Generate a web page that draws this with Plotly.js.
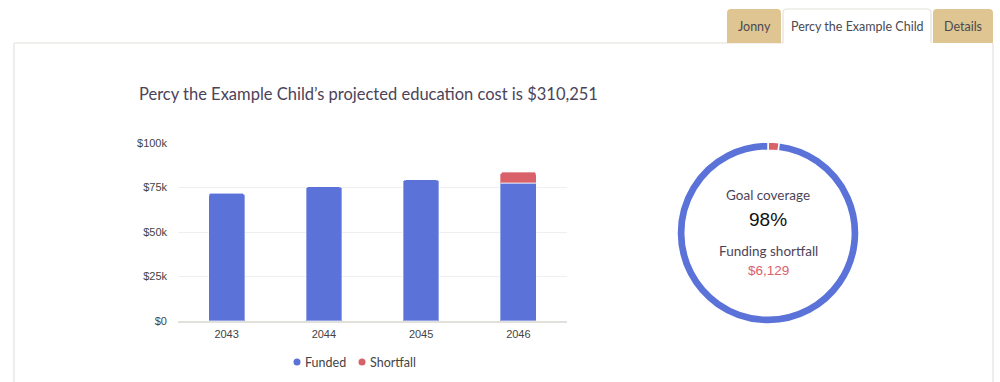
<!DOCTYPE html>
<html>
<head>
<meta charset="utf-8">
<script src="https://cdn.plot.ly/plotly-3.0.1.min.js"></script>
<style>
html,body{margin:0;padding:0;background:#fff;}
#chart{width:1000px;height:382px;}
</style>
</head>
<body>
<div id="chart"></div>
<script>
// ---- data ----
const years = ['2043', '2044', '2045', '2046'];
const funded = [71800, 75500, 79400, 77422];
const shortfall = [0, 0, 0, 6129];
const seriesNames = ['Funded', 'Shortfall'];
const coverageLabels = ['Shortfall', 'Funded'];
const totalCost = 310251;
const totalShortfall = 6129;
const coveragePct = '98%';
const tabs = ['Jonny', 'Percy the Example Child', 'Details'];
const yTicks = [0, 25000, 50000, 75000, 100000];
const yTickText = ['$0', '$25k', '$50k', '$75k', '$100k'];

// ---- style ----
const BLUE = '#5b72d9';
const RED = '#d9616a';
const TAN = '#dfc591';
const TEXT = '#4b4458';
const BORDER = '#e4e2dc';
const FONT = 'Lato, Inter, sans-serif';
const W = 1000, H = 382;
const px = x => x / W;
const py = y => 1 - y / H;

const fmt = v => '$' + v.toLocaleString('en-US');

const traces = [
  {
    type: 'bar', x: years, y: funded, name: seriesNames[0], showlegend: false,
    marker: {color: BLUE, cornerradius: 3, line: {color: 'rgba(255,255,255,0.35)', width: 1.5}},
    width: 0.37, hoverinfo: 'skip'
  },
  {
    type: 'bar', x: years, y: shortfall, name: seriesNames[1], showlegend: false,
    marker: {color: RED, cornerradius: 3, line: {color: 'rgba(255,255,255,0.35)', width: 1.5}},
    width: 0.37, hoverinfo: 'skip'
  },
  {
    type: 'pie', labels: coverageLabels,
    values: [totalShortfall, totalCost - totalShortfall],
    hole: 0.91, sort: false, direction: 'clockwise', rotation: 0,
    marker: {colors: [RED, BLUE], line: {color: '#fff', width: 1.5}},
    textinfo: 'none', showlegend: false, hoverinfo: 'skip',
    domain: {x: [px(677), px(859)], y: [py(324), py(142)]}
  }
];

// tabs geometry
const tabY0 = 9, tabY1 = 43;
const tabX = [[727, 781], [783, 931], [933, 993]];
function tabPath(x0, x1, r) {
  return `M ${px(x0)} ${py(tabY1)} L ${px(x0)} ${py(tabY0 + r)} Q ${px(x0)} ${py(tabY0)} ${px(x0 + r)} ${py(tabY0)} ` +
         `L ${px(x1 - r)} ${py(tabY0)} Q ${px(x1)} ${py(tabY0)} ${px(x1)} ${py(tabY0 + r)} L ${px(x1)} ${py(tabY1)}`;
}

const shapes = [
  // card border
  {type: 'line', xref: 'paper', yref: 'paper', x0: px(14), x1: px(783), y0: py(43), y1: py(43), line: {color: BORDER, width: 1.2}},
  {type: 'line', xref: 'paper', yref: 'paper', x0: px(14), x1: px(14), y0: py(43), y1: py(382), line: {color: BORDER, width: 1.2}},
  {type: 'line', xref: 'paper', yref: 'paper', x0: px(993), x1: px(993), y0: py(43), y1: py(382), line: {color: BORDER, width: 1.2}},
  // tabs
  {type: 'path', xref: 'paper', yref: 'paper', path: tabPath(tabX[0][0], tabX[0][1], 4) + ' Z', fillcolor: TAN, line: {width: 0}},
  {type: 'path', xref: 'paper', yref: 'paper', path: tabPath(tabX[1][0], tabX[1][1], 4), fillcolor: '#fff', line: {color: BORDER, width: 1.2}},
  {type: 'path', xref: 'paper', yref: 'paper', path: tabPath(tabX[2][0], tabX[2][1], 4) + ' Z', fillcolor: TAN, line: {width: 0}},
];

const annotations = [
  {text: `Percy the Example Child’s projected education cost is ${fmt(totalCost)}`,
   xref: 'paper', yref: 'paper', x: px(137), y: py(94), xanchor: 'left', yanchor: 'middle', showarrow: false,
   font: {family: FONT, size: 16.5, color: TEXT}},
  {text: 'Goal coverage', xref: 'paper', yref: 'paper', x: px(768), y: py(195), xanchor: 'center', yanchor: 'middle', showarrow: false,
   font: {family: FONT, size: 13.5, color: TEXT}},
  {text: coveragePct, xref: 'paper', yref: 'paper', x: px(768), y: py(219), xanchor: 'center', yanchor: 'middle', showarrow: false,
   font: {family: '"Liberation Sans", Arial, sans-serif', size: 19, color: '#111'}},
  {text: 'Funding shortfall', xref: 'paper', yref: 'paper', x: px(768), y: py(251), xanchor: 'center', yanchor: 'middle', showarrow: false,
   font: {family: FONT, size: 13.5, color: TEXT}},
  {text: fmt(totalShortfall), xref: 'paper', yref: 'paper', x: px(768), y: py(270), xanchor: 'center', yanchor: 'middle', showarrow: false,
   font: {family: '"Liberation Sans", Arial, sans-serif', size: 13.5, color: RED}},
];
tabs.forEach((t, i) => {
  annotations.push({text: t, xref: 'paper', yref: 'paper', x: px((tabX[i][0] + tabX[i][1]) / 2), y: py(27),
    xanchor: 'center', yanchor: 'middle', showarrow: false,
    font: {family: FONT, size: 12.5, color: '#4a4a52'}});
});

// custom legend (circle dot + label) for the two bar series
const legendDotX = [297, 362];
const legendY = 362;
[BLUE, RED].forEach((c, i) => {
  shapes.push({type: 'circle', xref: 'paper', yref: 'paper',
    x0: px(legendDotX[i] - 3.5), x1: px(legendDotX[i] + 3.5), y0: py(legendY + 3.5), y1: py(legendY - 3.5),
    fillcolor: c, line: {width: 0}});
  annotations.push({text: seriesNames[i], xref: 'paper', yref: 'paper', x: px(legendDotX[i] + 6), y: py(legendY),
    xanchor: 'left', yanchor: 'middle', showarrow: false,
    font: {family: FONT, size: 12.5, color: '#444'}});
});

const layout = {
  width: W, height: H,
  margin: {l: 0, r: 0, t: 0, b: 0},
  paper_bgcolor: '#fff', plot_bgcolor: '#fff',
  barmode: 'stack',
  showlegend: false,
  xaxis: {domain: [px(178), px(567)], type: 'category', showgrid: false, zeroline: false,
          showline: true, linecolor: '#e2e0dc', linewidth: 2,
          tickfont: {family: '"Liberation Sans", Arial, sans-serif', size: 11, color: '#444'},
          ticks: '', ticklabelstandoff: 2, fixedrange: true},
  yaxis: {domain: [py(321), py(143)], range: [0, 100000], tickvals: yTicks, ticktext: yTickText,
          showgrid: true, gridcolor: '#efefef', gridwidth: 1, zeroline: false, showline: false,
          ticks: '', ticklabelstandoff: 10,
          tickfont: {family: '"Liberation Sans", Arial, sans-serif', size: 11, color: '#444'},
          fixedrange: true},
  shapes: shapes,
  annotations: annotations
};

Plotly.newPlot('chart', traces, layout, {displayModeBar: false, staticPlot: true});
</script>
</body>
</html>
